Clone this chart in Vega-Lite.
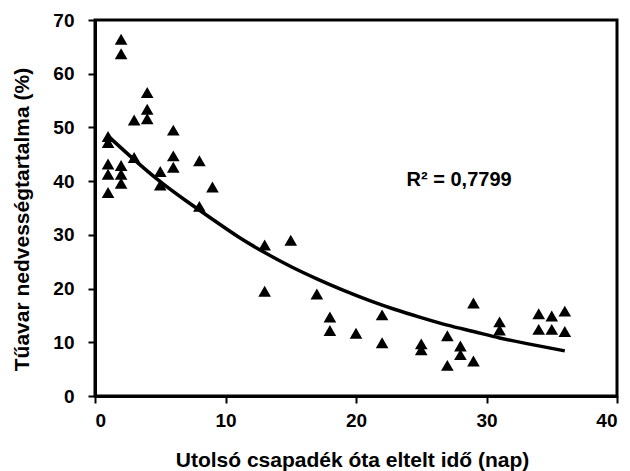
{
  "$schema": "https://vega.github.io/schema/vega-lite/v6.json",
  "width": 522,
  "height": 376,
  "autosize": {"type": "none"},
  "padding": {"left": 95, "top": 20, "right": 13, "bottom": 75},
  "background": "white",
  "config": {
    "font": "Liberation Sans",
    "view": {"stroke": "black", "strokeWidth": 3},
    "axis": {
      "grid": false,
      "domainColor": "black",
      "domainWidth": 3,
      "tickColor": "black",
      "tickWidth": 2,
      "tickSize": 7,
      "labelFont": "Liberation Sans",
      "labelFontWeight": "bold",
      "labelFontSize": 19,
      "labelColor": "black",
      "titleFont": "Liberation Sans",
      "titleFontWeight": "bold",
      "titleFontSize": 21,
      "titleColor": "black"
    }
  },
  "datasets": {
    "meresek": [
      {"nap": 1, "nedv": 48.3}, {"nap": 1, "nedv": 47.2}, {"nap": 1, "nedv": 43.2}, {"nap": 1, "nedv": 41.3}, {"nap": 1, "nedv": 37.9},
      {"nap": 2, "nedv": 66.4}, {"nap": 2, "nedv": 63.7}, {"nap": 2, "nedv": 42.9}, {"nap": 2, "nedv": 41.3}, {"nap": 2, "nedv": 39.6},
      {"nap": 3, "nedv": 51.4}, {"nap": 3, "nedv": 44.4},
      {"nap": 4, "nedv": 56.5}, {"nap": 4, "nedv": 53.4}, {"nap": 4, "nedv": 51.6},
      {"nap": 5, "nedv": 41.8}, {"nap": 5, "nedv": 39.3},
      {"nap": 6, "nedv": 49.5}, {"nap": 6, "nedv": 44.7}, {"nap": 6, "nedv": 42.6},
      {"nap": 8, "nedv": 43.8}, {"nap": 8, "nedv": 35.3},
      {"nap": 9, "nedv": 38.9},
      {"nap": 13, "nedv": 28.1}, {"nap": 13, "nedv": 19.5},
      {"nap": 15, "nedv": 29.0},
      {"nap": 17, "nedv": 19.0},
      {"nap": 18, "nedv": 14.7}, {"nap": 18, "nedv": 12.2},
      {"nap": 20, "nedv": 11.7},
      {"nap": 22, "nedv": 15.1}, {"nap": 22, "nedv": 9.9},
      {"nap": 25, "nedv": 9.7}, {"nap": 25, "nedv": 8.6},
      {"nap": 27, "nedv": 11.2}, {"nap": 27, "nedv": 5.7},
      {"nap": 28, "nedv": 9.3}, {"nap": 28, "nedv": 7.7},
      {"nap": 29, "nedv": 17.3}, {"nap": 29, "nedv": 6.5},
      {"nap": 31, "nedv": 13.8}, {"nap": 31, "nedv": 12.3},
      {"nap": 34, "nedv": 15.3}, {"nap": 34, "nedv": 12.4},
      {"nap": 35, "nedv": 14.9}, {"nap": 35, "nedv": 12.4},
      {"nap": 36, "nedv": 15.8}, {"nap": 36, "nedv": 12.0}
    ],
    "trendvonal": [
      {"nap": 1, "nedv": 48.4}, {"nap": 3, "nedv": 44.0}, {"nap": 5, "nedv": 39.9},
      {"nap": 7, "nedv": 36.3}, {"nap": 9, "nedv": 32.9}, {"nap": 11, "nedv": 29.6},
      {"nap": 13, "nedv": 26.7}, {"nap": 15, "nedv": 24.1}, {"nap": 17, "nedv": 21.8},
      {"nap": 19, "nedv": 19.7}, {"nap": 21, "nedv": 17.8}, {"nap": 23, "nedv": 16.1},
      {"nap": 25, "nedv": 14.6}, {"nap": 27, "nedv": 13.2}, {"nap": 29, "nedv": 12.0},
      {"nap": 31, "nedv": 10.8}, {"nap": 33, "nedv": 9.8}, {"nap": 36, "nedv": 8.4}
    ]
  },
  "layer": [
    {
      "data": {"name": "meresek"},
      "mark": {"type": "point", "shape": "triangle-up", "filled": true, "color": "black", "opacity": 1, "size": 160},
      "encoding": {
        "x": {
          "field": "nap", "type": "quantitative",
          "scale": {"domain": [0, 40], "nice": false, "zero": true},
          "axis": {"values": [0, 10, 20, 30, 40], "title": "Utolsó csapadék óta eltelt idő (nap)", "labelPadding": 8, "titlePadding": 19, "titleX": 257}
        },
        "y": {
          "field": "nedv", "type": "quantitative",
          "scale": {"domain": [0, 70], "nice": false},
          "axis": {"values": [0, 10, 20, 30, 40, 50, 60, 70], "title": "Tűavar nedvességtartalma (%)", "labelPadding": 14, "titlePadding": 20, "titleY": 199}
        }
      }
    },
    {
      "data": {"name": "trendvonal"},
      "mark": {"type": "line", "color": "black", "strokeWidth": 3.5, "interpolate": "natural"},
      "encoding": {
        "x": {"field": "nap", "type": "quantitative"},
        "y": {"field": "nedv", "type": "quantitative"}
      }
    },
    {
      "data": {"values": [{"felirat": "R² = 0,7799"}]},
      "mark": {"type": "text", "font": "Liberation Sans", "fontWeight": "bold", "fontSize": 20, "color": "black", "align": "center", "baseline": "middle"},
      "encoding": {
        "text": {"field": "felirat"},
        "x": {"datum": 27.9},
        "y": {"datum": 40.3}
      }
    }
  ]
}
